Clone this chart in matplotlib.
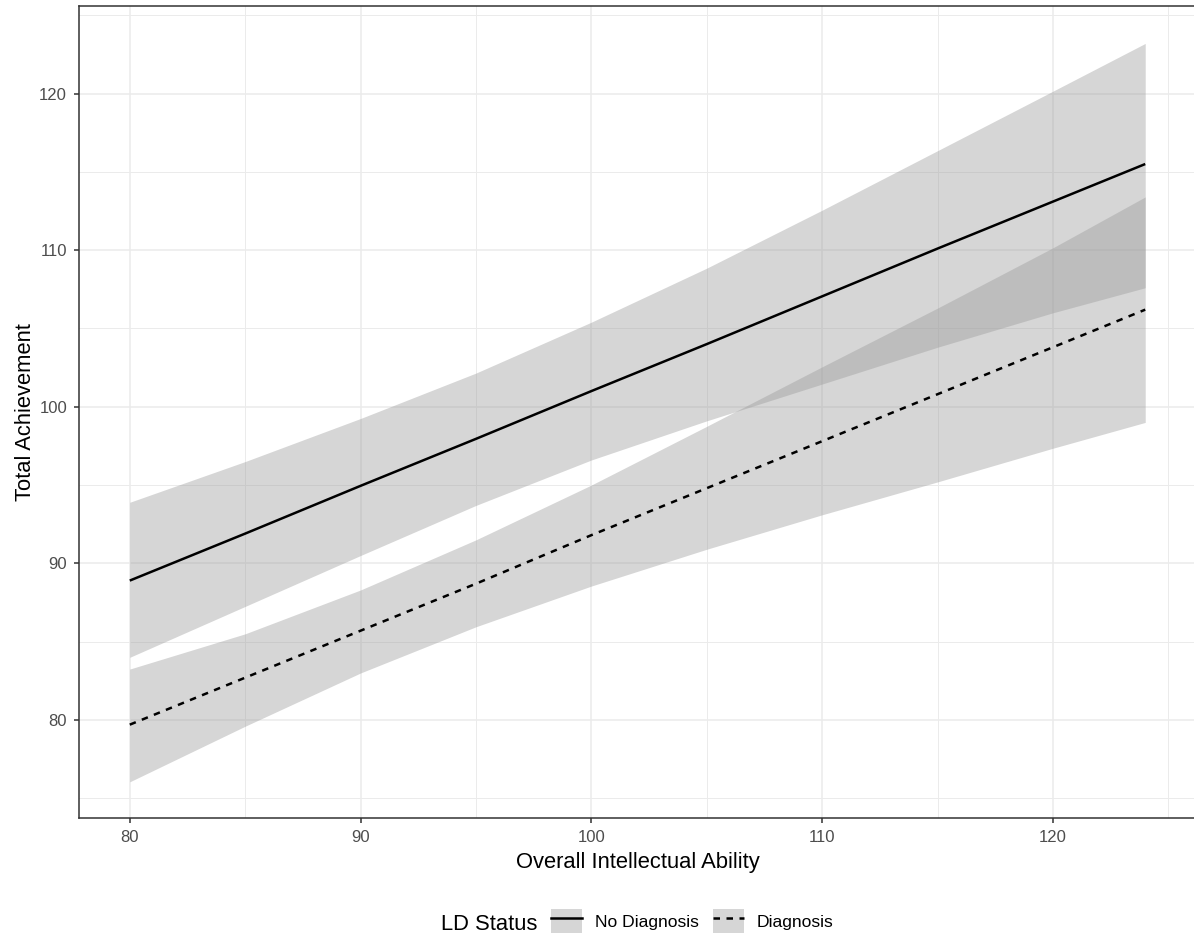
import matplotlib
matplotlib.use("Agg")
import matplotlib.pyplot as plt
from matplotlib.lines import Line2D
from matplotlib.patches import Patch
from matplotlib.legend_handler import HandlerTuple
from matplotlib.ticker import MultipleLocator

plt.rcParams['font.family'] = ['Liberation Sans', 'DejaVu Sans']

# --- values ---
iq = [80, 85, 90, 95, 100, 105, 110, 115, 120, 124]

no_dx_fit = [88.9, 91.9, 94.95, 97.95, 101.0, 104.0, 107.05, 110.1, 113.1, 115.5]
no_dx_lower = [84.0, 87.25, 90.5, 93.7, 96.6, 99.1, 101.45, 103.8, 106.0, 107.6]
no_dx_upper = [93.9, 96.5, 99.25, 102.15, 105.4, 108.85, 112.55, 116.35, 120.15, 123.2]

dx_fit = [79.7, 82.7, 85.7, 88.7, 91.8, 94.8, 97.8, 100.8, 103.8, 106.2]
dx_lower = [76.05, 79.6, 83.0, 85.95, 88.55, 90.9, 93.1, 95.2, 97.35, 99.0]
dx_upper = [83.25, 85.5, 88.3, 91.5, 95.0, 98.75, 102.55, 106.3, 110.15, 113.4]

group_labels = ["No Diagnosis", "Diagnosis"]
legend_title = "LD Status"

ribbon = "#999999"
dash = (0, (2.6, 2.6))

W, H = 1194, 940
fig = plt.figure(figsize=(W / 100, H / 100), dpi=100)
ax = fig.add_axes([79 / W, (H - 818.3) / H, (1196 - 79) / W, (818.3 - 5.7) / H])

ax.fill_between(iq, no_dx_lower, no_dx_upper, color=ribbon, alpha=0.4, lw=0, zorder=2)
ax.fill_between(iq, dx_lower, dx_upper, color=ribbon, alpha=0.4, lw=0, zorder=2)
ax.plot(iq, no_dx_fit, color="black", lw=1.8, solid_capstyle="butt", zorder=3)
ax.plot(iq, dx_fit, color="black", lw=1.8, linestyle=dash, zorder=3)

ax.set_xlim(77.8, 126.2)
ax.set_ylim(73.72, 125.61)
ax.xaxis.set_major_locator(MultipleLocator(10))
ax.xaxis.set_minor_locator(MultipleLocator(5))
ax.yaxis.set_major_locator(MultipleLocator(10))
ax.yaxis.set_minor_locator(MultipleLocator(5))

ax.grid(which="major", color="#EBEBEB", lw=1.1, zorder=0)
ax.grid(which="minor", color="#EBEBEB", lw=0.7, zorder=0)
ax.set_axisbelow(True)

for s in ax.spines.values():
    s.set_color("#333333")
    s.set_linewidth(1.1)

ax.tick_params(which="major", length=3.6, width=1.1, color="#333333",
               labelsize=12, labelcolor="#4D4D4D", pad=5)
ax.tick_params(which="minor", length=0)

ax.set_xlabel("Overall Intellectual Ability", fontsize=15.8, labelpad=5)
ax.set_ylabel("Total Achievement", fontsize=15.8, labelpad=2.5)

# legend along the bottom, title on the left as in ggplot
handles = [
    (Patch(facecolor=ribbon, alpha=0.4, edgecolor="none"),
     Line2D([], [], color="black", lw=1.8)),
    (Patch(facecolor=ribbon, alpha=0.4, edgecolor="none"),
     Line2D([], [], color="black", lw=1.8, linestyle=dash)),
]
fig.legend(handles, group_labels, ncol=2, frameon=False, fontsize=12.6,
           handler_map={tuple: HandlerTuple(ndivide=1, pad=0)},
           handlelength=1.77, handleheight=1.77, handletextpad=0.75,
           columnspacing=0.8, borderpad=0, loc="center",
           bbox_to_anchor=(692 / W, 19 / H))
fig.text(441 / W, 10 / H, legend_title, fontsize=15.8, va="baseline", ha="left")

fig.savefig("out.png", dpi=100)
